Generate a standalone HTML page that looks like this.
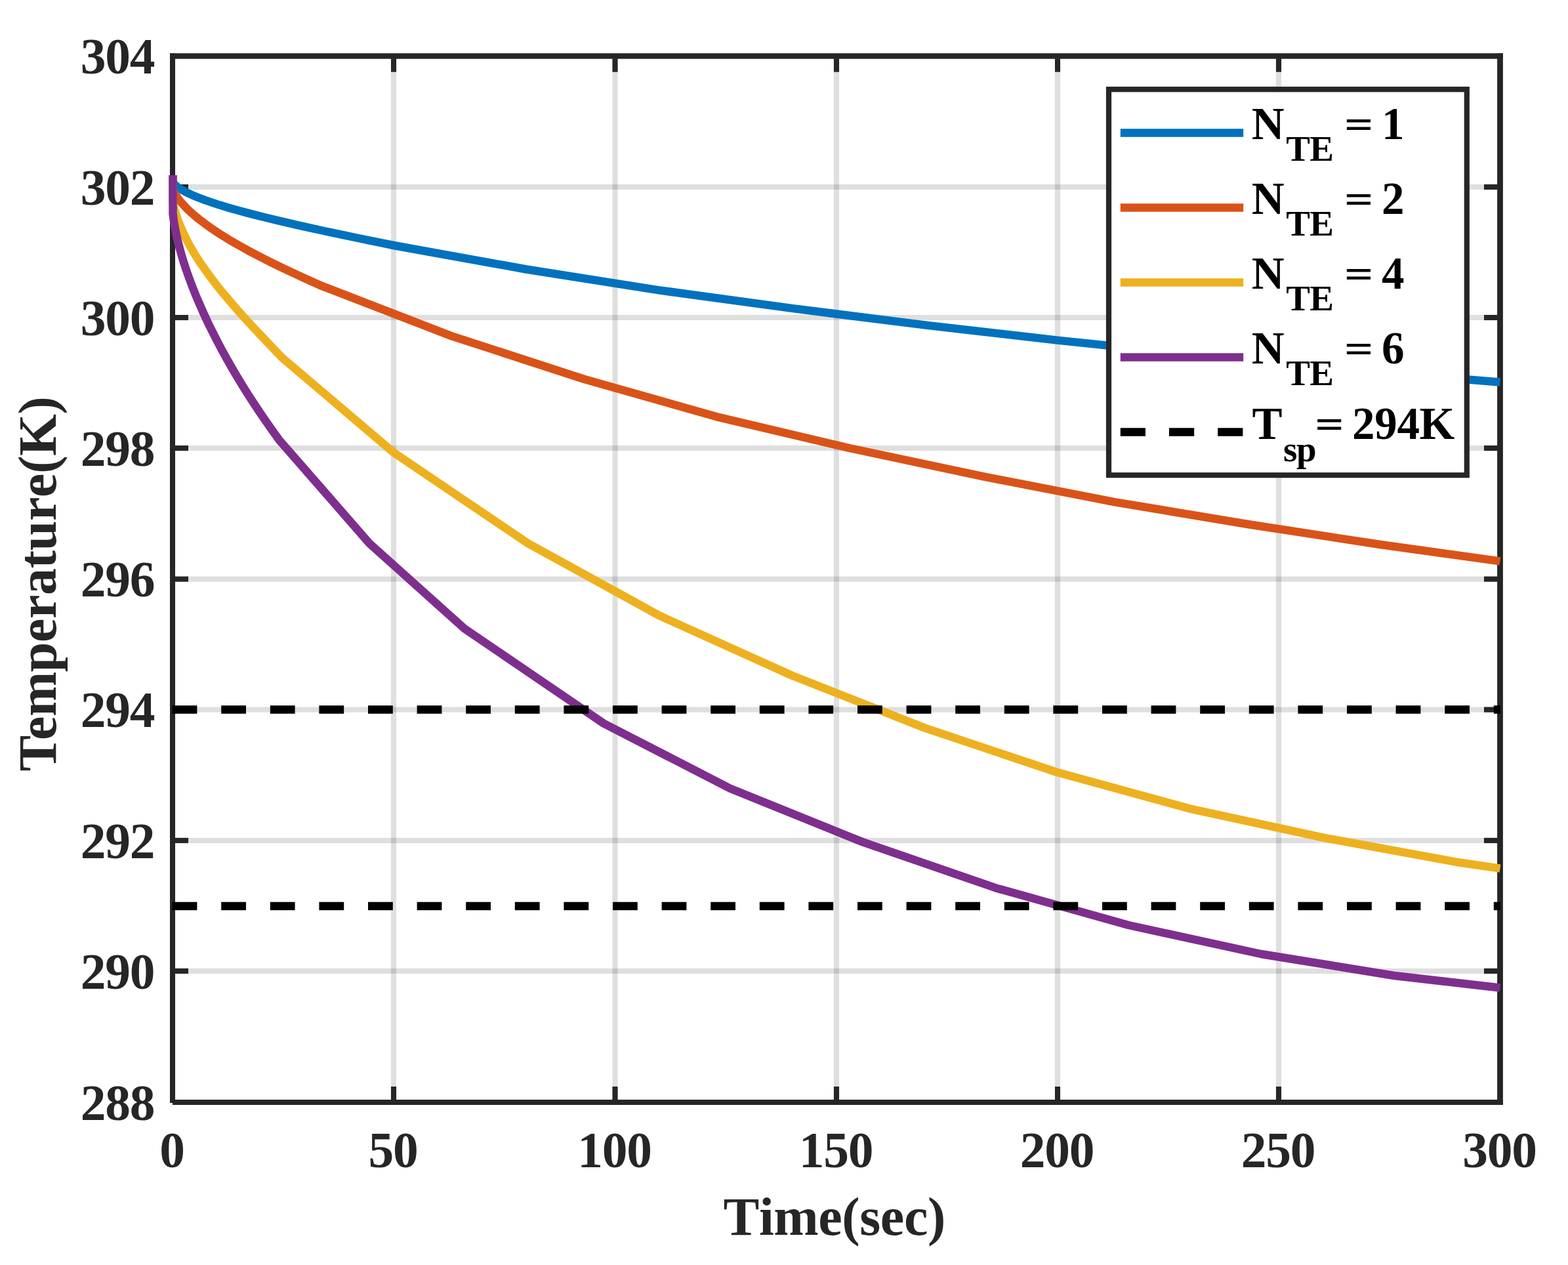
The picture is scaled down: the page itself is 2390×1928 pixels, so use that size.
<!DOCTYPE html>
<html lang="en"><head><meta charset="utf-8"><title>Temperature vs Time</title>
<style>
html,body{margin:0;padding:0;background:#fff;}
body{width:2390px;height:1928px;overflow:hidden;}
svg{display:block;}
text{font-family:"Liberation Serif","Times New Roman",Times,serif;font-weight:bold;font-kerning:none;white-space:pre;}
.tk{font-size:77.5px;fill:#262626;}
.lb{font-size:82.2px;fill:#262626;}
.lg{font-size:69px;fill:#000;}
.sb{font-size:55px;fill:#000;}
.eq{font-family:"DejaVu Serif","Liberation Serif",serif;font-weight:normal;font-size:57.7px;fill:#000;}
</style></head><body>
<svg xmlns="http://www.w3.org/2000/svg" width="2390" height="1928" viewBox="0 0 2390 1928">
<rect x="0" y="0" width="2390" height="1928" fill="#fff"/>
<g fill="#262626" fill-opacity="0.15">
<rect x="595.95" y="85.40" width="8.10" height="1594.60"/>
<rect x="933.45" y="85.40" width="8.10" height="1594.60"/>
<rect x="1270.95" y="85.40" width="8.10" height="1594.60"/>
<rect x="1607.95" y="85.40" width="8.10" height="1594.60"/>
<rect x="1944.95" y="85.40" width="8.10" height="1594.60"/>
<rect x="263.00" y="1475.95" width="2023.50" height="8.10"/>
<rect x="263.00" y="1276.95" width="2023.50" height="8.10"/>
<rect x="263.00" y="1077.55" width="2023.50" height="8.10"/>
<rect x="263.00" y="878.55" width="2023.50" height="8.10"/>
<rect x="263.00" y="678.95" width="2023.50" height="8.10"/>
<rect x="263.00" y="479.95" width="2023.50" height="8.10"/>
<rect x="263.00" y="280.95" width="2023.50" height="8.10"/>
</g>
<g fill="#262626">
<rect x="259" y="81.2" width="8" height="1599.8"/>
<rect x="263" y="1676" width="2027.9" height="8"/>
<rect x="259" y="81.2" width="2031.9" height="8.5"/>
<rect x="2282.1" y="81.2" width="8.8" height="1602.8"/>
<rect x="595.95" y="1656" width="8.10" height="20.5"/>
<rect x="595.95" y="89.2" width="8.10" height="20.5"/>
<rect x="933.45" y="1656" width="8.10" height="20.5"/>
<rect x="933.45" y="89.2" width="8.10" height="20.5"/>
<rect x="1270.95" y="1656" width="8.10" height="20.5"/>
<rect x="1270.95" y="89.2" width="8.10" height="20.5"/>
<rect x="1607.95" y="1656" width="8.10" height="20.5"/>
<rect x="1607.95" y="89.2" width="8.10" height="20.5"/>
<rect x="1944.95" y="1656" width="8.10" height="20.5"/>
<rect x="1944.95" y="89.2" width="8.10" height="20.5"/>
<rect x="266.5" y="1475.95" width="20.5" height="8.10"/>
<rect x="2262" y="1475.95" width="20.5" height="8.10"/>
<rect x="266.5" y="1276.95" width="20.5" height="8.10"/>
<rect x="2262" y="1276.95" width="20.5" height="8.10"/>
<rect x="266.5" y="1077.55" width="20.5" height="8.10"/>
<rect x="2262" y="1077.55" width="20.5" height="8.10"/>
<rect x="266.5" y="878.55" width="20.5" height="8.10"/>
<rect x="2262" y="878.55" width="20.5" height="8.10"/>
<rect x="266.5" y="678.95" width="20.5" height="8.10"/>
<rect x="2262" y="678.95" width="20.5" height="8.10"/>
<rect x="266.5" y="479.95" width="20.5" height="8.10"/>
<rect x="2262" y="479.95" width="20.5" height="8.10"/>
<rect x="266.5" y="280.95" width="20.5" height="8.10"/>
<rect x="2262" y="280.95" width="20.5" height="8.10"/>
</g>
<g fill="none" stroke-width="12.50" stroke-linejoin="round" stroke-linecap="butt">
<polyline stroke="#0072BD" points="263.5,267.0 263.5,278.0 266.9,281.8 271.6,285.7 277.5,289.5 284.5,293.4 292.7,297.2 301.9,301.0 312.1,304.9 323.1,308.7 335.1,312.6 347.8,316.4 361.3,320.2 375.5,324.1 390.2,327.9 405.6,331.8 421.5,335.6 437.8,339.4 454.6,343.3 471.8,347.1 489.4,351.0 507.3,354.8 525.4,358.6 543.8,362.5 562.4,366.3 581.2,370.2 600.0,374.0 802.4,410.5 1004.7,442.3 1207.0,469.9 1409.4,495.4 1611.8,518.6 1814.1,539.6 2016.5,559.3 2218.8,577.1 2286.5,582.6"/>
<polyline stroke="#D95319" points="263.5,267.0 263.5,290.0 266.8,295.8 270.7,301.6 275.2,307.4 280.4,313.2 286.0,319.0 292.2,324.8 298.9,330.5 306.2,336.3 313.9,342.1 322.1,347.9 330.7,353.7 339.8,359.5 349.2,365.3 359.1,371.1 369.4,376.9 379.9,382.7 390.9,388.5 402.1,394.3 413.6,400.1 425.4,405.8 437.5,411.6 449.8,417.4 462.4,423.2 475.1,429.0 488.0,434.8 688.0,512.1 890.0,577.7 1092.0,635.1 1295.0,683.0 1497.0,725.9 1700.0,765.3 1902.0,799.0 2104.0,830.0 2286.5,855.4"/>
<polyline stroke="#EDB120" points="263.5,267.0 263.5,308.0 265.7,317.5 268.4,327.0 271.6,336.6 275.4,346.1 279.6,355.6 284.3,365.1 289.4,374.6 294.9,384.2 300.8,393.7 307.1,403.2 313.8,412.7 320.8,422.2 328.0,431.8 335.6,441.3 343.4,450.8 351.4,460.3 359.7,469.8 368.2,479.4 376.8,488.9 385.6,498.4 394.5,507.9 403.5,517.4 412.6,527.0 421.7,536.5 430.9,546.0 601.0,690.4 804.5,828.0 1005.0,938.3 1207.0,1029.5 1410.0,1109.6 1612.0,1177.3 1814.0,1232.6 2017.0,1276.7 2219.0,1313.7 2286.5,1323.6"/>
<polyline stroke="#7E2F8E" points="263.5,267.0 263.5,326.0 265.4,339.8 267.9,353.6 271.0,367.4 274.5,381.1 278.5,394.9 282.9,408.7 287.8,422.5 292.9,436.3 298.4,450.1 304.3,463.8 310.4,477.6 316.8,491.4 323.6,505.2 330.6,519.0 337.9,532.8 345.4,546.5 353.3,560.3 361.4,574.1 369.8,587.9 378.4,601.7 387.4,615.5 396.5,629.2 406.0,643.0 415.7,656.8 425.6,670.6 563.0,828.1 708.0,958.1 920.0,1102.5 1113.0,1201.7 1315.0,1283.4 1518.0,1353.4 1720.0,1410.0 1922.0,1454.0 2125.0,1487.0 2286.5,1505.5"/>
<line x1="262.6" y1="1081.60" x2="2286.9" y2="1081.60" stroke="#000" stroke-dasharray="37.80 36.80"/>
<line x1="262.6" y1="1380.90" x2="2286.9" y2="1380.90" stroke="#000" stroke-dasharray="37.80 36.80"/>
</g>
<text class="tk" x="122.78 160.28 197.78" y="112.25">304</text>
<text class="tk" x="122.78 160.28 197.78" y="311.80">302</text>
<text class="tk" x="122.78 160.28 197.78" y="510.80">300</text>
<text class="tk" x="122.78 160.28 197.78" y="709.80">298</text>
<text class="tk" x="122.78 160.28 197.78" y="909.40">296</text>
<text class="tk" x="122.78 160.28 197.78" y="1108.40">294</text>
<text class="tk" x="122.78 160.28 197.78" y="1307.80">292</text>
<text class="tk" x="122.78 160.28 197.78" y="1506.80">290</text>
<text class="tk" x="122.78 160.28 197.78" y="1706.80">288</text>
<text class="tk" x="243.23" y="1779.40">0</text>
<text class="tk" x="561.58 599.08" y="1779.40">50</text>
<text class="tk" x="880.33 917.83 955.33" y="1779.40">100</text>
<text class="tk" x="1217.83 1255.33 1292.83" y="1779.40">150</text>
<text class="tk" x="1554.83 1592.33 1629.83" y="1779.40">200</text>
<text class="tk" x="1891.83 1929.33 1966.83" y="1779.40">250</text>
<text class="tk" x="2229.32 2266.82 2304.32" y="1779.40">300</text>
<text class="lb" x="1102.58 1156.96 1179.27 1247.14 1283.25 1310.28 1341.87 1377.93 1414.04" y="1882.00">Time(sec)</text>
<text class="lb" x="-0.32 47.18 83.06 150.87 196.11 232.17 268.20 308.91 335.86 381.10 417.16 453.27 480.12 543.53" y="0.00" transform="translate(84.93,1175.1) rotate(-90)">Temperature(K)</text>
<rect x="1690.00" y="136.20" width="545.80" height="588.00" fill="#fff" stroke="#262626" stroke-width="8.2"/>
<line x1="1707.8" y1="202.40" x2="1895.2" y2="202.40" stroke="#0072BD" stroke-width="12.50"/>
<text class="lg" x="1907.7" y="212.00">N<tspan class="sb" x="1960.3 1996.2" y="244.90">TE</tspan><tspan x="2033.1" y="212.00"> </tspan><tspan class="eq" x="2046.85" y="208.20">=</tspan><tspan x="2089.2 2106.00" y="212.00"> 1</tspan></text>
<line x1="1707.8" y1="316.40" x2="1895.2" y2="316.40" stroke="#D95319" stroke-width="12.50"/>
<text class="lg" x="1907.7" y="326.00">N<tspan class="sb" x="1960.3 1996.2" y="358.90">TE</tspan><tspan x="2033.1" y="326.00"> </tspan><tspan class="eq" x="2046.85" y="322.20">=</tspan><tspan x="2089.2 2106.00" y="326.00"> 2</tspan></text>
<line x1="1707.8" y1="430.40" x2="1895.2" y2="430.40" stroke="#EDB120" stroke-width="12.50"/>
<text class="lg" x="1907.7" y="440.00">N<tspan class="sb" x="1960.3 1996.2" y="472.90">TE</tspan><tspan x="2033.1" y="440.00"> </tspan><tspan class="eq" x="2046.85" y="436.20">=</tspan><tspan x="2089.2 2106.00" y="440.00"> 4</tspan></text>
<line x1="1707.8" y1="544.40" x2="1895.2" y2="544.40" stroke="#7E2F8E" stroke-width="12.50"/>
<text class="lg" x="1907.7" y="554.00">N<tspan class="sb" x="1960.3 1996.2" y="586.90">TE</tspan><tspan x="2033.1" y="554.00"> </tspan><tspan class="eq" x="2046.85" y="550.20">=</tspan><tspan x="2089.2 2106.00" y="554.00"> 6</tspan></text>
<line x1="1707.8" y1="658.40" x2="1895.2" y2="658.40" stroke="#000" stroke-width="12.50" stroke-dasharray="38.20 36.00"/>
<text class="lg" x="1908.5" y="669.00">T<tspan class="sb" x="1956.1 1976.05" y="702.7">sp</tspan><tspan class="eq" x="2001.98" y="665.20">=</tspan><tspan x="2044.2 2061.08 2095.28 2129.48 2163.6" y="669.00"> 294K</tspan></text>
</svg>
</body></html>
